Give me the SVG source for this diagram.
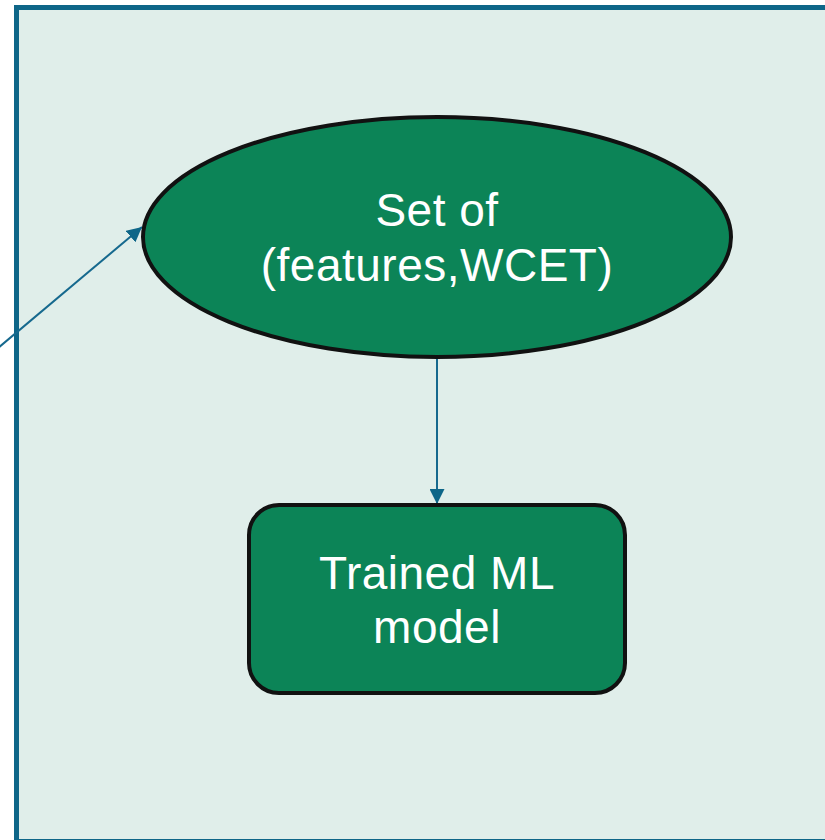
<svg xmlns="http://www.w3.org/2000/svg" width="825" height="840" viewBox="0 0 825 840">
<defs>
<style>
.node{fill:#0C8457;stroke:#111;stroke-width:4}
.lbl{font-family:"Liberation Sans",Arial,sans-serif;font-size:46px;fill:#fff;text-anchor:middle;letter-spacing:0.5px}
.edge{stroke:#16698E;stroke-width:2;fill:none}
</style>
<marker id="ah" viewBox="0 0 10 10" refX="10" refY="5" markerWidth="7.5" markerHeight="7.5" markerUnits="strokeWidth" orient="auto"><path d="M0,0 L10,5 L0,10 z" fill="#0E6688"/></marker>
</defs>
<rect x="0" y="0" width="825" height="840" fill="#fff"/>
<g id="frame"><rect x="16.5" y="7.5" width="830" height="834" fill="#E0EEEA" stroke="#0E6688" stroke-width="5"/></g>
<g id="connectors">
<line class="edge" x1="-2" y1="348" x2="142" y2="227" marker-end="url(#ah)"/>
<line class="edge" x1="437" y1="358" x2="437" y2="504" marker-end="url(#ah)"/>
</g>
<g id="set">
<ellipse class="node" cx="437" cy="237" rx="294" ry="120"/>
<text class="lbl" x="437" y="226">Set of</text>
<text class="lbl" x="437" y="281">(features,WCET)</text>
</g>
<g id="model">
<rect class="node" x="249" y="505" width="376" height="188" rx="30"/>
<text class="lbl" x="437" y="589">Trained ML</text>
<text class="lbl" x="437" y="643">model</text>
</g>
</svg>
